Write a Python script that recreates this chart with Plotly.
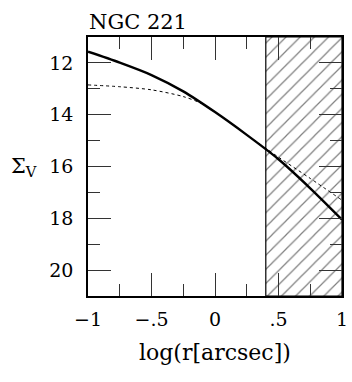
import plotly.graph_objects as go

# data
x_solid = [-1.0, -0.75, -0.5, -0.25, 0.0, 0.25, 0.5, 0.75, 1.0]
y_solid = [11.57, 11.99, 12.47, 13.1, 13.9, 14.78, 15.72, 16.84, 18.05]

x_dot = [-1.0, -0.75, -0.5, -0.25, -0.1, 0.0, 0.25, 0.5, 0.75, 1.0]
y_dot = [12.85, 12.92, 13.04, 13.3, 13.58, 13.9, 14.78, 15.64, 16.46, 17.3]

hatch_x = [0.4, 1.0]
x_range = [-1, 1]
y_range = [21, 11]

x_tickvals = [-1, -0.5, 0, 0.5, 1]
x_ticktext = ["\u22121", "\u2212.5", "0", ".5", "1"]
y_tickvals = [12, 14, 16, 18, 20]
y_ticktext = ["12", "14", "16", "18", "20"]

FONT = "DejaVu Serif"

fig = go.Figure()

# hatched region
fig.add_trace(go.Scatter(
    x=[hatch_x[0], hatch_x[1], hatch_x[1], hatch_x[0], hatch_x[0]],
    y=[y_range[0], y_range[0], y_range[1], y_range[1], y_range[0]],
    mode="lines", line=dict(color="black", width=1.2),
    fill="toself", fillcolor="white",
    fillpattern=dict(shape="/", size=10, solidity=0.12, fgcolor="black", bgcolor="white"),
    hoverinfo="skip", showlegend=False,
))

fig.add_trace(go.Scatter(x=x_dot, y=y_dot, mode="lines",
                         line=dict(color="black", width=1, dash="3px,3px", shape="spline", smoothing=0.8),
                         showlegend=False))
fig.add_trace(go.Scatter(x=x_solid, y=y_solid, mode="lines",
                         line=dict(color="black", width=2.4, shape="spline", smoothing=0.8),
                         showlegend=False))

axis_common = dict(
    showgrid=False, zeroline=False, showline=True, linecolor="black", linewidth=1.5,
    mirror="allticks", ticks="inside", ticklen=23, tickwidth=1, tickcolor="#333",
    tickfont=dict(family=FONT, size=19, color="black"),
    ticklabeloverflow="allow",
)

fig.update_xaxes(range=x_range, tickvals=x_tickvals, ticktext=x_ticktext,
                 minor=dict(dtick=0.25, tick0=0, ticks="inside", ticklen=12, tickcolor="#333", tickwidth=1),
                 ticklabelstandoff=5, **axis_common)
fig.update_yaxes(range=y_range, tickvals=y_tickvals, ticktext=y_ticktext,
                 minor=dict(dtick=1, tick0=0, ticks="inside", ticklen=12, tickcolor="#333", tickwidth=1),
                 ticklabelstandoff=9, **axis_common)

fig.update_layout(
    width=352, height=382,
    margin=dict(l=88, r=4, t=37, b=86),
    paper_bgcolor="white", plot_bgcolor="white",
    annotations=[
        dict(text="NGC 221", x=0, xref="paper", xanchor="left", xshift=-1,
             y=1, yref="paper", yanchor="bottom", yshift=1, showarrow=False,
             font=dict(family=FONT, size=21, color="black")),
        dict(text="log(r[arcsec])", x=0.5, xref="paper", xanchor="center",
             y=0, yref="paper", yanchor="top", yshift=-42, showarrow=False,
             font=dict(family=FONT, size=22, color="black")),
        dict(text="\u03a3<sub>V</sub>", x=-0.31, xref="paper", xanchor="left",
             y=16, yref="y", yanchor="middle", showarrow=False,
             font=dict(family=FONT, size=21, color="black")),
    ],
)

fig.write_html("out.html")
